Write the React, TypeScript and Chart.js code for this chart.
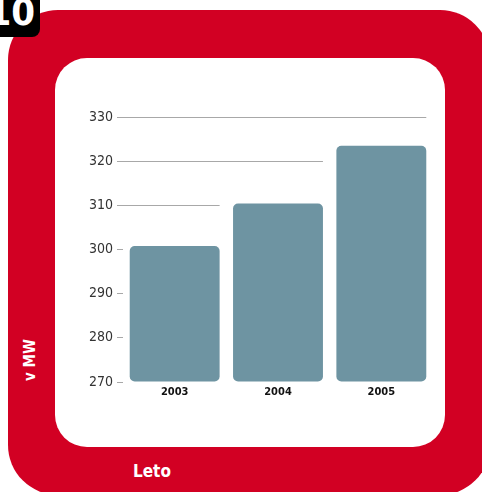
import React, { useEffect, useRef } from "react";
import { Chart, registerables } from "chart.js";
Chart.register(...registerables);

const years = ["2003", "2004", "2005"];
const capacityMW = [300.8, 310.4, 323.5];
const yMin = 270;
const yMax = 330;
const yStep = 10;

const FONT = "'Liberation Sans Narrow', 'DejaVu Sans Condensed', 'Arial Narrow', sans-serif";
const RED = "rgb(210, 0, 35)";
const GRID = "#a8a8a8";

const steppedGrid = {
  id: "steppedGrid",
  beforeDatasetsDraw(chart: any) {
    const { ctx, chartArea, scales } = chart;
    const y = scales.y;
    const meta = chart.getDatasetMeta(0);
    const values = chart.data.datasets[0].data as number[];
    ctx.save();
    ctx.strokeStyle = GRID;
    ctx.lineWidth = 1;
    y.ticks.forEach((t: any) => {
      const v = t.value;
      let endX: number | null = null;
      for (let i = 0; i < meta.data.length; i++) {
        if (values[i] < v) {
          const el: any = meta.data[i];
          endX = el.x + el.width / 2;
        } else break;
      }
      if (endX == null) return;
      const py = Math.round(y.getPixelForValue(v)) + 0.5;
      ctx.beginPath();
      ctx.moveTo(chartArea.left, py);
      ctx.lineTo(endX, py);
      ctx.stroke();
    });
    ctx.restore();
  },
};

export default function App() {
  const ref = useRef<HTMLCanvasElement>(null);
  useEffect(() => {
    if (!ref.current) return;
    const chart = new Chart(ref.current, {
      type: "bar",
      data: {
        labels: years,
        datasets: [
          {
            data: capacityMW,
            base: yMin,
            backgroundColor: "#6e94a2",
            borderRadius: 5,
            borderSkipped: false,
            barPercentage: 0.87,
            categoryPercentage: 1,
          },
        ],
      },
      options: {
        responsive: false,
        animation: false,
        devicePixelRatio: 1,
        layout: { padding: { left: 0, right: 49, top: 117, bottom: 80 } },
        plugins: { legend: { display: false }, tooltip: { enabled: false } },
        scales: {
          x: {
            grid: { display: false, drawTicks: false },
            border: { display: false },
            ticks: { font: { family: FONT, size: 11, weight: "bold" }, color: "#111", padding: 4 },
            afterFit: (s: any) => {
              s.height = 30;
            },
          },
          y: {
            min: yMin,
            max: yMax,
            grid: { display: true, drawOnChartArea: false, drawTicks: true, tickLength: 6, color: GRID, lineWidth: 1 },
            border: { display: false },
            ticks: { stepSize: yStep, font: { family: FONT, size: 14 }, color: "#333", padding: 4 },
            afterFit: (s: any) => {
              s.width = 123;
            },
          },
        },
      },
      plugins: [steppedGrid],
    });
    return () => chart.destroy();
  }, []);

  return (
    <div style={{ position: "absolute", left: 0, top: 0, width: 482, height: 492, overflow: "hidden", background: "#fff" }}>
      <div style={{ position: "absolute", left: 8, top: 10, width: 482, height: 485, borderRadius: 50, background: RED }} />
      <div style={{ position: "absolute", left: 55, top: 58, width: 390, height: 389, borderRadius: 32, background: "#fff" }} />
      <div style={{ position: "absolute", left: 0, top: 0, width: 40, height: 37, borderBottomRightRadius: 8, background: "#000", overflow: "hidden" }}>
        <div style={{ position: "absolute", right: 5, top: -8, fontFamily: FONT, fontWeight: "bold", fontSize: 38, lineHeight: "40px", color: "#fff", whiteSpace: "nowrap" }}>10</div>
      </div>
      <div style={{ position: "absolute", left: 30, top: 360, transform: "translate(-50%, -50%) rotate(-90deg)", fontFamily: FONT, fontWeight: "bold", fontSize: 15, color: "#fff", whiteSpace: "nowrap" }}>v MW</div>
      <div style={{ position: "absolute", left: 133, top: 462, fontFamily: FONT, fontWeight: "bold", fontSize: 17, lineHeight: "19px", color: "#fff", whiteSpace: "nowrap" }}>Leto</div>
      <canvas ref={ref} width={482} height={492} style={{ position: "absolute", left: 0, top: 0 }} />
    </div>
  );
}
